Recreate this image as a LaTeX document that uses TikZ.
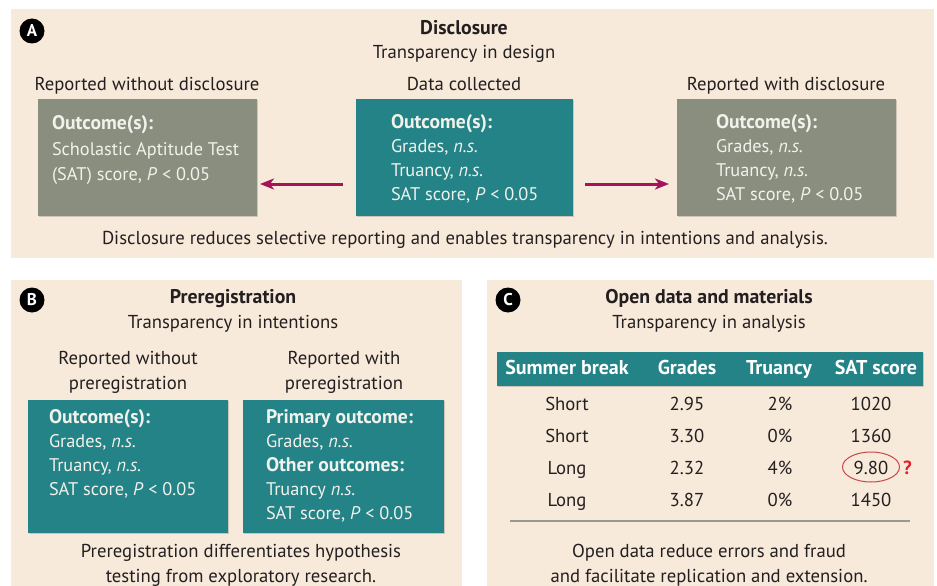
\documentclass[tikz,border=0pt]{standalone}
\usepackage{fontspec}
\setmainfont{PT Sans}
\usetikzlibrary{shadows,arrows.meta,shapes.geometric}
\definecolor{beige}{HTML}{F8EADA}
\definecolor{teal}{HTML}{238387}
\definecolor{grayb}{HTML}{8A8E7E}
\definecolor{boxtext}{HTML}{F2F2EC}
\definecolor{ink}{HTML}{231F20}
\definecolor{arrowc}{HTML}{A5145A}
\definecolor{ovalc}{HTML}{C8464A}
\definecolor{qc}{HTML}{E0202A}
\definecolor{rulec}{HTML}{9A9890}
\begin{document}
\begin{tikzpicture}[x=1pt,y=-1pt,
  every node/.style={inner sep=0pt,outer sep=0pt},
  txt/.style={font=\fontsize{18.7}{22}\selectfont,text=ink,anchor=base},
  btxt/.style={txt,font=\fontsize{19.8}{22}\selectfont\bfseries},
  wtxt/.style={font=\fontsize{18.3}{22}\selectfont,text=boxtext,anchor=base west},
  wbold/.style={wtxt,font=\fontsize{19.6}{22}\selectfont\bfseries},
  panel/.style={fill=beige,draw=none},
  box/.style={draw=none,anchor=north west,drop shadow={shadow xshift=1pt,shadow yshift=-1pt,opacity=0.35}},
  tealbox/.style={box,fill=teal},
  graybox/.style={box,fill=grayb},
  arr/.style={draw=arrowc,line width=3pt,-{Stealth[length=14pt,width=11pt,inset=4pt]}},
  badge/.style={circle,fill=black,text=white,minimum size=25pt,font=\fontsize{17}{17}\selectfont\bfseries},
  hdrtxt/.style={font=\fontsize{20}{22}\selectfont\bfseries,text=white,anchor=base},
]
\useasboundingbox (0,0) rectangle (937,586);
\fill[white] (0,0) rectangle (937,586);
% panels
\fill[panel] (11,9) rectangle (934,258);
\fill[panel] (11,280) rectangle (462,586);
\fill[panel] (487,280) rectangle (934,586);

% ---------------- Panel A
\node[badge] (bA) at (32,31) {A};
\node[btxt] (tA) at (464,35) {Disclosure};
\node[txt] (sA) at (464,59) {Transparency in design};
\node[txt] (hAl) at (147,91) {Reported without disclosure};
\node[txt] (hAc) at (464,91) {Data collected};
\node[txt] (hAr) at (786,91) {Reported with disclosure};

\node[graybox,minimum width=219pt,minimum height=117pt] (l) at (38,99) {};
\node[tealbox,minimum width=217pt,minimum height=117pt] (c) at (356,99) {};
\node[graybox,minimum width=219pt,minimum height=117pt] (r) at (677,99) {};

\node[wbold] (l1) at (52,129) {Outcome(s):};
\node[wtxt] (l2) at (52,155) {Scholastic Aptitude Test};
\node[wtxt] (l3) at (52,180) {(SAT) score, \textit{P} < 0.05};

\node[wbold] (c1) at (391,128) {Outcome(s):};
\node[wtxt] (c2) at (391,152) {Grades, \textit{n.s.}};
\node[wtxt] (c3) at (391,176) {Truancy, \textit{n.s.}};
\node[wtxt] (c4) at (391,200) {SAT score, \textit{P} < 0.05};

\node[wbold] (r1) at (716,128) {Outcome(s):};
\node[wtxt] (r2) at (716,152) {Grades, \textit{n.s.}};
\node[wtxt] (r3) at (716,176) {Truancy, \textit{n.s.}};
\node[wtxt] (r4) at (716,200) {SAT score, \textit{P} < 0.05};

\draw[arr,shorten <=13pt,shorten >=3pt] ([yshift=-26.5pt]c.west) -- ([yshift=-26.5pt]l.east);
\draw[arr,shorten <=12pt,shorten >=8pt] ([yshift=-26.5pt]c.east) -- ([yshift=-26.5pt]r.west);

\node[txt] (capA) at (465,244) {Disclosure reduces selective reporting and enables transparency in intentions and analysis.};

% ---------------- Panel B
\node[badge] (bB) at (32,300) {B};
\node[btxt] (tB) at (233,303) {Preregistration};
\node[txt] (sB) at (233,328) {Transparency in intentions};
\node[txt] (hBl1) at (128,364) {Reported without};
\node[txt] (hBl2) at (128,389) {preregistration};
\node[txt] (hBr1) at (344,364) {Reported with};
\node[txt] (hBr2) at (344,389) {preregistration};

\node[tealbox,minimum width=200pt,minimum height=133pt] (bl) at (28,400) {};
\node[tealbox,minimum width=201pt,minimum height=133pt] (br) at (243,400) {};

\node[wbold] (bl1) at (49,423) {Outcome(s):};
\node[wtxt] (bl2) at (49,447) {Grades, \textit{n.s.}};
\node[wtxt] (bl3) at (49,471) {Truancy, \textit{n.s.}};
\node[wtxt] (bl4) at (49,495) {SAT score, \textit{P} < 0.05};

\node[wbold] (br1) at (266,423) {Primary outcome:};
\node[wtxt] (br2) at (266,447) {Grades, \textit{n.s.}};
\node[wbold] (br3) at (266,471) {Other outcomes:};
\node[wtxt] (br4) at (266,495) {Truancy \textit{n.s.}};
\node[wtxt] (br5) at (266,519) {SAT score, \textit{P} < 0.05};

\node[txt] (capB1) at (241,557) {Preregistration differentiates hypothesis};
\node[txt] (capB2) at (241,582) {testing from exploratory research.};

% ---------------- Panel C
\node[badge] (bC) at (508,300) {C};
\node[btxt] (tC) at (709,303) {Open data and materials};
\node[txt] (sC) at (709,328) {Transparency in analysis};

\node[box,fill=teal,minimum width=426pt,minimum height=34pt] (hdr) at (497,352) {};
\node[hdrtxt] (h1) at (567,374) {Summer break};
\node[hdrtxt] (h2) at (687,374) {Grades};
\node[hdrtxt] (h3) at (779,374) {Truancy};
\node[hdrtxt] (h4) at (876,374) {SAT score};

\node[txt] (a1) at (567,410) {Short};
\node[txt] (a2) at (687,410) {2.95};
\node[txt] (a3) at (780,410) {2\%};
\node[txt] (a4) at (871,410) {1020};
\node[txt] (b1) at (567,442) {Short};
\node[txt] (b2) at (687,442) {3.30};
\node[txt] (b3) at (780,442) {0\%};
\node[txt] (b4) at (871,442) {1360};
\node[txt] (c1r) at (567,474) {Long};
\node[txt] (c2r) at (687,474) {2.32};
\node[txt] (c3r) at (780,474) {4\%};
\node[txt] (c4r) at (871,474) {9.80};
\node[txt] (d1) at (567,506) {Long};
\node[txt] (d2) at (687,506) {3.87};
\node[txt] (d3) at (780,506) {0\%};
\node[txt] (d4) at (871,506) {1450};

\node[ellipse,draw=ovalc,line width=1pt,minimum width=57pt,minimum height=30pt] (oval) at (871,467) {};
\node[txt,anchor=base west,text=qc,font=\fontsize{19}{22}\selectfont\bfseries] (q) at (903,474) {?};

\coordinate (ruleL) at (510,521);
\coordinate (ruleR) at (910,521);
\draw[rulec,line width=2pt] (ruleL) -- (ruleR);

\node[txt] (capC1) at (709,557) {Open data reduce errors and fraud};
\node[txt] (capC2) at (709,582) {and facilitate replication and extension.};
\end{tikzpicture}
\end{document}
